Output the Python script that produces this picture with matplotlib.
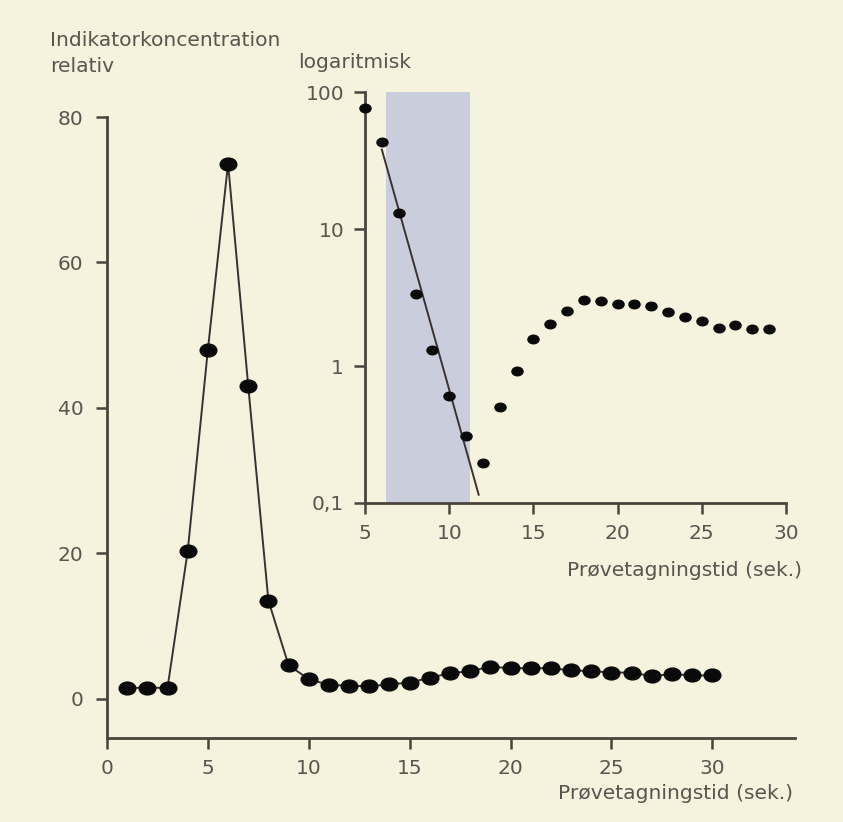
import matplotlib
matplotlib.use("Agg")
import matplotlib.pyplot as plt
import numpy as np
from matplotlib.path import Path
from matplotlib.transforms import Affine2D

# ---- data ----
main_x = list(range(1, 31))
main_y = [1.5, 1.5, 1.5, 20.3, 48.0, 73.6, 43.0, 13.5, 4.6, 2.7,
          1.9, 1.8, 1.7, 2.0, 2.2, 2.9, 3.5, 3.8, 4.4, 4.2,
          4.2, 4.2, 3.9, 3.8, 3.6, 3.6, 3.1, 3.4, 3.2, 3.2]

log_x = list(range(5, 30))
log_y = [76.7, 43.2, 13.1, 3.37, 1.30, 0.60, 0.31, 0.195, 0.505, 0.92,
         1.58, 2.04, 2.52, 3.01, 2.97, 2.85, 2.85, 2.74, 2.48, 2.28,
         2.13, 1.90, 2.00, 1.86, 1.86]

fit_x = [6.0, 11.75]
fit_y = [38.0, 0.115]

shade_x = [6.25, 11.25]

main_yticks = [0, 20, 40, 60, 80]
main_xticks = [0, 5, 10, 15, 20, 25, 30]
log_yticks = [0.1, 1, 10, 100]
log_yticklabels = ["0,1", "1", "10", "100"]
log_xticks = [5, 10, 15, 20, 25, 30]

xlabel = "Prøvetagningstid (sek.)"

# ---- style ----
BG = "#f5f2de"
SPINE = "#4a443c"
TXT = "#58564f"
DOT = "#0a0a0a"
LINE = "#3a3232"
SHADE = "#c9cddc"
FONT = ["DejaVu Sans"]
plt.rcParams["font.family"] = FONT
FS = 14.6
TFS = 14.5

W, H = 843, 822
fig = plt.figure(figsize=(W / 100, H / 100), dpi=100)
fig.patch.set_facecolor(BG)

ellipse = Path.unit_circle().transformed(Affine2D().scale(1.3, 1.0))


def fx(px):
    return px / W


def fy(py):
    return 1 - py / H


def style_axes(ax):
    ax.set_facecolor("none")
    for s in ["top", "right"]:
        ax.spines[s].set_visible(False)
    for s in ["left", "bottom"]:
        ax.spines[s].set_color(SPINE)
        ax.spines[s].set_linewidth(2.0)
    ax.tick_params(direction="out", length=8, width=1.8, color=SPINE,
                   labelcolor=TXT, labelsize=TFS, pad=7)


# ---- main axes ----
x0, x1 = 107, 795
y0, y1 = 738, 117
ax = fig.add_axes([fx(x0), fy(y0), fx(x1) - fx(x0), fy(y1) - fy(y0)])
style_axes(ax)
ax.set_xlim(0, 34.1)
ax.set_ylim(-5.4, 80)
ax.set_xticks(main_xticks)
ax.set_yticks(main_yticks)
ax.tick_params(axis="y", pad=9)
ax.plot(main_x, main_y, color=LINE, lw=1.4, zorder=2)
ax.plot(main_x, main_y, ls="none", marker=ellipse, ms=12, color=DOT,
        zorder=3, clip_on=False)

fig.text(fx(50), fy(40), "Indikatorkoncentration", ha="left", va="center",
         color=TXT, fontsize=FS)
fig.text(fx(50), fy(66), "relativ", ha="left", va="center",
         color=TXT, fontsize=FS)
fig.text(fx(793), fy(793), xlabel, ha="right", va="center",
         color=TXT, fontsize=FS)

# ---- inset (log) ----
ix0, ix1 = 365, 786
iy0, iy1 = 503, 92
ax2 = fig.add_axes([fx(ix0), fy(iy0), fx(ix1) - fx(ix0), fy(iy1) - fy(iy0)])
style_axes(ax2)
ax2.set_yscale("log")
ax2.set_xlim(5, 30)
ax2.set_ylim(0.1, 100)
ax2.set_xticks(log_xticks)
ax2.set_yticks(log_yticks)
ax2.set_yticklabels(log_yticklabels)
ax2.yaxis.set_minor_locator(matplotlib.ticker.NullLocator())
ax2.axvspan(shade_x[0], shade_x[1], ymin=0, ymax=1, color=SHADE, lw=0, zorder=0)
ax2.plot(fit_x, fit_y, color=LINE, lw=1.4, zorder=2)
ax2.plot(log_x, log_y, ls="none", marker=ellipse, ms=8, color=DOT,
         zorder=3, clip_on=False)

fig.text(fx(298), fy(62), "logaritmisk", ha="left", va="center",
         color=TXT, fontsize=FS)
fig.text(fx(802), fy(570), xlabel, ha="right", va="center",
         color=TXT, fontsize=FS)

fig.savefig("out.png", dpi=100, facecolor=BG)
